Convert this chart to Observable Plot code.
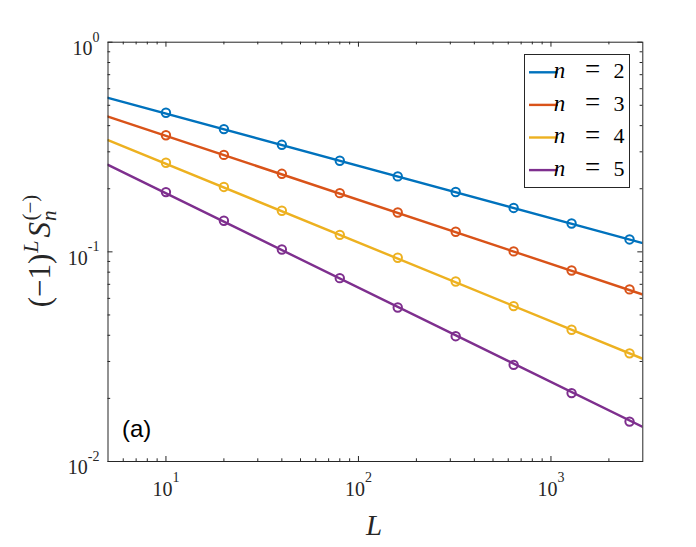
<!DOCTYPE html>
<html>
<head>
<meta charset="utf-8">
<script src="https://cdn.jsdelivr.net/npm/d3@7"></script>
<script src="https://cdn.jsdelivr.net/npm/@observablehq/plot@0.6"></script>
<style>
  html, body { margin: 0; padding: 0; background: #fff; }
</style>
</head>
<body>
<div id="chart"></div>
<script>
// ---- data ----
const L = [10, 20, 40, 80, 160, 320, 640, 1280, 2560];
const seriesNames = ["n = 2", "n = 3", "n = 4", "n = 5"];
const seriesColors = ["#0072BD", "#D95319", "#EDB120", "#7E2F8E"];
const n2 = [0.4606, 0.385, 0.324, 0.272, 0.229, 0.193, 0.162, 0.1366, 0.1146];
const n3 = [0.360, 0.290, 0.2356, 0.1905, 0.154, 0.1247, 0.1005, 0.0815, 0.0662];
const n4 = [0.266, 0.204, 0.157, 0.1205, 0.0937, 0.0722, 0.0551, 0.0425, 0.0328];
const n5 = [0.1927, 0.1407, 0.1026, 0.0749, 0.0543, 0.0396, 0.0289, 0.0212, 0.0155];
// fitted power-law lines, read at the ends of the axis
const fitL = [5, 3000];
const fit2 = [0.543, 0.110];
const fit3 = [0.442, 0.0626];
const fit4 = [0.341, 0.0309];
const fit5 = [0.260, 0.0146];
// axes
const xDomain = [5, 3000];
const yDomain = [0.01, 1];
const xMajor = [10, 100, 1000];
const xTickLabels = ["10^1", "10^2", "10^3"];
const xMinor = [6, 7, 8, 9, 20, 30, 40, 50, 60, 70, 80, 90, 200, 300, 400, 500, 600, 700, 800, 900, 2000];
const yMajor = [0.01, 0.1, 1];
const yTickLabels = ["10^-2", "10^-1", "10^0"];
const yMinor = [0.02, 0.03, 0.04, 0.05, 0.06, 0.07, 0.08, 0.09, 0.2, 0.3, 0.4, 0.5, 0.6, 0.7, 0.8, 0.9];

// ---- tables ----
const vals = [n2, n3, n4, n5];
const fits = [fit2, fit3, fit4, fit5];
const points = [];
const fitRows = [];
seriesNames.forEach((s, k) => {
  L.forEach((l, i) => points.push({series: s, L: l, v: vals[k][i]}));
  fitL.forEach((l, i) => fitRows.push({series: s, L: l, v: fits[k][i]}));
});

// ---- layout ----
const W = 696, H = 547;
const mL = 107.5, mR = 53.7, mT = 41.7, mB = 86;
const plotW = W - mL - mR, plotH = H - mT - mB;
const ink = "#262626";
const serif = "'Liberation Serif', 'Times New Roman', serif";

const chart = Plot.plot({
  width: W, height: H,
  marginLeft: mL, marginRight: mR, marginTop: mT, marginBottom: mB,
  style: {background: "#fff", fontFamily: serif, fontSize: "20px", color: ink, overflow: "visible"},
  x: {type: "log", domain: xDomain, axis: null},
  y: {type: "log", domain: yDomain, axis: null},
  color: {domain: seriesNames, range: seriesColors},
  marks: [
    Plot.line(fitRows, {x: "L", y: "v", z: "series", stroke: "series", strokeWidth: 2.4, clip: true}),
    Plot.dot(points, {x: "L", y: "v", stroke: "series", r: 4.2, strokeWidth: 2, fill: "none"}),
    // inward ticks on all four sides
    Plot.ruleX(xMajor, {x: d => d, insetTop: plotH - 5, stroke: ink}),
    Plot.ruleX(xMajor, {x: d => d, insetBottom: plotH - 5, stroke: ink}),
    Plot.ruleX(xMinor, {x: d => d, insetTop: plotH - 2.7, stroke: ink}),
    Plot.ruleX(xMinor, {x: d => d, insetBottom: plotH - 2.7, stroke: ink}),
    Plot.ruleY(yMajor, {y: d => d, insetRight: plotW - 5, stroke: ink}),
    Plot.ruleY(yMajor, {y: d => d, insetLeft: plotW - 5, stroke: ink}),
    Plot.ruleY(yMinor, {y: d => d, insetRight: plotW - 2.7, stroke: ink}),
    Plot.ruleY(yMinor, {y: d => d, insetLeft: plotW - 2.7, stroke: ink}),
    Plot.frame({stroke: ink, strokeWidth: 1}),
    // tick labels
    Plot.text(yMajor, {y: d => d, frameAnchor: "left", dx: -8.5, dy: 6.4, textAnchor: "end",
      text: (d, i) => yTickLabels[i], fill: ink, fontSize: 20}),
    Plot.text(xMajor, {x: d => d, frameAnchor: "bottom", dy: 34.4, textAnchor: "middle",
      text: (d, i) => xTickLabels[i], fill: ink, fontSize: 20}),
    Plot.text(["(a)"], {frameAnchor: "bottom-left", dx: 14, dy: -25, textAnchor: "start",
      fontSize: 24, fontFamily: "'Liberation Sans', Arial, sans-serif", fill: "#000"})
  ]
});
document.getElementById("chart").appendChild(chart);

const ns = "http://www.w3.org/2000/svg";
const svg = d3.select(chart);

// superscripts in tick labels
chart.querySelectorAll("text").forEach(t => {
  if (t.children.length || !t.textContent.includes("^")) return;
  const [b, e] = t.textContent.split("^");
  t.textContent = "";
  t.style.fontSize = "20px";
  t.style.fontFamily = serif;
  const tb = document.createElementNS(ns, "tspan");
  tb.style.fontSize = "20px";
  tb.textContent = b;
  t.appendChild(tb);
  const ts = document.createElementNS(ns, "tspan");
  ts.setAttribute("dy", "-13.5");
  ts.style.fontSize = "14px";
  ts.textContent = e;
  t.appendChild(ts);
});

// y-axis label: (−1)^L S_n^(−)
const yl = svg.append("text")
  .attr("transform", "translate(50,251) rotate(-90)")
  .attr("text-anchor", "middle")
  .attr("font-family", serif)
  .attr("font-size", 31)
  .attr("fill", ink);
yl.append("tspan").text("(−1)");
yl.append("tspan").attr("font-style", "italic").attr("font-size", 22).attr("dy", -12).attr("dx", 1).text("L");
yl.append("tspan").attr("font-style", "italic").attr("dy", 12).attr("dx", 3).text("S");
yl.append("tspan").attr("font-style", "italic").attr("font-size", 21).attr("dy", 6).attr("dx", 1).text("n");
yl.append("tspan").attr("font-size", 21).attr("dy", -19).attr("dx", -10).text("(−)");

// x-axis label
svg.append("text")
  .attr("x", 374).attr("y", 535)
  .attr("text-anchor", "middle")
  .attr("font-family", serif)
  .attr("font-style", "italic")
  .attr("font-size", 29)
  .attr("fill", ink)
  .text("L");

// legend
const lg = svg.append("g");
lg.append("rect")
  .attr("x", 524.5).attr("y", 54.5).attr("width", 105).attr("height", 133)
  .attr("fill", "#fff").attr("stroke", ink).attr("stroke-width", 1);
seriesNames.forEach((s, i) => {
  const yy = 72.3 + i * 32.6;
  lg.append("line").attr("x1", 529).attr("x2", 558).attr("y1", yy).attr("y2", yy)
    .attr("stroke", seriesColors[i]).attr("stroke-width", 2.4);
  const [lhs, rhs] = s.split(" = ");
  lg.append("text").attr("x", 559.5).attr("y", yy + 5.6)
    .attr("font-family", serif).attr("font-style", "italic").attr("font-size", 23).attr("fill", "#000")
    .text(lhs);
  lg.append("text").attr("x", 592.5).attr("y", yy + 6).attr("text-anchor", "middle")
    .attr("font-family", serif).attr("font-size", 27).attr("fill", "#000")
    .text("=");
  lg.append("text").attr("x", 619).attr("y", yy + 5.6).attr("text-anchor", "middle")
    .attr("font-family", serif).attr("font-size", 22).attr("fill", "#000")
    .text(rhs);
});
</script>
</body>
</html>
